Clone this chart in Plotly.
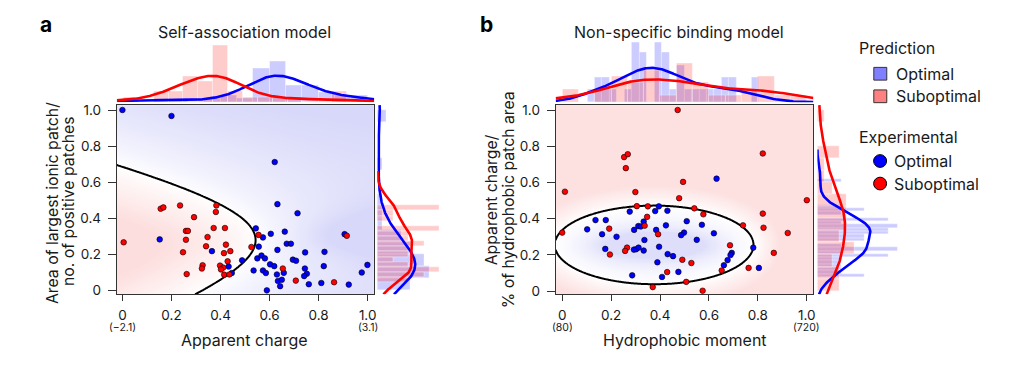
import numpy as np
import plotly.graph_objects as go

# the page body has an 8 px margin; size the figure so it fits the 1032x366 window
OFF = 8
W, H = 1032 - OFF, 366 - OFF
FONT = "Inter"
TXT = "#1a1a1a"

# ---------------- data: panel a (self-association model) ----------------
a_opt_x = [0.000, 0.200, 0.621, 0.632, 0.714, 0.152, 0.544, 0.573, 0.605, 0.662, 0.670, 0.687,
           0.556, 0.632, 0.365, 0.488, 0.550, 0.567, 0.581, 0.695, 0.708, 0.745, 0.824, 0.906,
           0.602, 0.619, 0.433, 0.535, 0.573, 0.585, 0.630, 0.658, 0.744, 0.752, 0.741, 0.821,
           0.634, 0.650, 0.643, 0.589, 0.760, 0.811, 0.923, 0.976, 0.999, 0.446]
a_opt_y = [1.000, 0.967, 0.712, 0.479, 0.429, 0.284, 0.345, 0.295, 0.315, 0.327, 0.260, 0.260,
           0.244, 0.226, 0.219, 0.168, 0.179, 0.195, 0.179, 0.172, 0.166, 0.212, 0.215, 0.313,
           0.146, 0.136, 0.134, 0.112, 0.112, 0.098, 0.090, 0.099, 0.123, 0.094, 0.081, 0.136,
           0.054, 0.061, 0.025, 0.002, 0.036, 0.043, 0.034, 0.101, 0.143, 0.098]
a_sub_x = [0.005, 0.156, 0.167, 0.235, 0.383, 0.381, 0.292, 0.372, 0.418, 0.259, 0.267, 0.259,
           0.347, 0.341, 0.422, 0.247, 0.414, 0.440, 0.429, 0.327, 0.324, 0.398, 0.411, 0.402,
           0.415, 0.436, 0.262, 0.526, 0.555, 0.654, 0.707, 0.863, 0.915]
a_sub_y = [0.268, 0.454, 0.461, 0.472, 0.472, 0.436, 0.407, 0.347, 0.347, 0.331, 0.331, 0.282,
           0.297, 0.246, 0.255, 0.213, 0.208, 0.219, 0.163, 0.141, 0.123, 0.139, 0.128, 0.118,
           0.089, 0.090, 0.092, 0.242, 0.309, 0.123, 0.056, 0.047, 0.304]

# ---------------- data: panel b (non-specific binding model) ----------------
b_opt_x = [0.631, 0.276, 0.380, 0.395, 0.430, 0.136, 0.178, 0.102, 0.163, 0.222, 0.294, 0.311,
           0.321, 0.333, 0.384, 0.424, 0.509, 0.571, 0.498, 0.486, 0.620, 0.550, 0.336, 0.396,
           0.176, 0.293, 0.302, 0.312, 0.333, 0.431, 0.453, 0.389, 0.475, 0.408, 0.286, 0.693,
           0.688, 0.676, 0.661, 0.781, 0.804]
b_opt_y = [0.621, 0.439, 0.442, 0.468, 0.444, 0.392, 0.392, 0.341, 0.314, 0.300, 0.338, 0.359,
           0.357, 0.384, 0.338, 0.363, 0.386, 0.366, 0.323, 0.309, 0.319, 0.283, 0.282, 0.245,
           0.233, 0.229, 0.231, 0.240, 0.224, 0.204, 0.193, 0.159, 0.106, 0.078, 0.087, 0.211,
           0.199, 0.171, 0.143, 0.240, 0.128]
b_sub_x = [0.472, 0.253, 0.268, 0.260, 0.820, 0.494, 0.011, 0.299, 0.478, 1.000, 0.305, 0.350,
           0.540, 0.577, 0.820, 0.347, 0.337, 0.823, 0.739, 0.922, 0.000, 0.192, 0.392, 0.686,
           0.265, 0.257, 0.195, 0.865, 0.491, 0.528, 0.762, 0.652, 0.429, 0.507, 0.370, 0.574]
b_sub_y = [1.000, 0.740, 0.756, 0.679, 0.760, 0.603, 0.549, 0.547, 0.513, 0.502, 0.469, 0.468,
           0.457, 0.424, 0.428, 0.410, 0.361, 0.350, 0.363, 0.321, 0.323, 0.345, 0.314, 0.253,
           0.240, 0.222, 0.202, 0.211, 0.173, 0.155, 0.128, 0.114, 0.105, 0.051, 0.022, 0.002]

# decision-boundary model parameters
a_model = dict(s0=0.543, t0=0.28, A=0.6045, B=0.571, C=-3.621)   # quadratic boundary
b_model = dict(cx=0.376, cy=0.255, rx=0.406, ry=0.217)            # ellipse boundary

tick_vals = [0, 0.2, 0.4, 0.6, 0.8, 1.0]
tick_text = ["0", "0.2", "0.4", "0.6", "0.8", "1.0"]
a_raw_labels = ["(\u22122.1)", "(3.1)"]
b_raw_labels = ["(80)", "(720)"]

BLUE, RED = "#0000ff", "#ff0000"
BLUE_BAR, RED_BAR = "rgba(0,0,255,0.2)", "rgba(255,0,0,0.2)"


def px(x):
    return (x - OFF) / W


def py(y):
    return 1 - (y - OFF) / H


XA = [-0.023, 1.027]
YA = [-0.020, 1.027]
XB = [-0.027, 1.027]
YB = [-0.018, 1.027]


def f_a(X, Y):
    s = X - a_model["s0"]
    t = Y - a_model["t0"]
    return a_model["A"] * s ** 2 + a_model["B"] * s * t + a_model["C"] * t ** 2 - s


def f_b(X, Y):
    return 1 - ((X - b_model["cx"]) / b_model["rx"]) ** 2 - ((Y - b_model["cy"]) / b_model["ry"]) ** 2


def signed_dist(func, xr, yr, n=240):
    gx = np.linspace(xr[0], xr[1], n)
    gy = np.linspace(yr[0], yr[1], n)
    X, Y = np.meshgrid(gx, gy)
    F = func(X, Y)
    dFy, dFx = np.gradient(F, gy, gx)
    D = F / np.sqrt(dFx ** 2 + dFy ** 2 + 1e-12)
    return gx, gy, F, D


def shade(D, s_pos, s_neg, gamma=0.85):
    Z = np.where(D >= 0, np.clip(D / s_pos, 0, 1), -np.clip(-D / s_neg, 0, 1))
    return np.sign(Z) * np.abs(Z) ** gamma


def kde(vals, grid):
    v = np.asarray(vals, float)
    n = len(v)
    h = v.std(ddof=1) * n ** (-0.2)
    g = np.asarray(grid)[:, None]
    dens = np.exp(-0.5 * ((g - v[None, :]) / h) ** 2).sum(1) / (n * h * np.sqrt(2 * np.pi))
    return dens, h


def hist(vals, nb):
    v = np.asarray(vals, float)
    d, e = np.histogram(v, bins=nb, range=(v.min(), v.max()), density=True)
    return 0.5 * (e[1:] + e[:-1]), d, e[1] - e[0]


fig = go.Figure()

# ---------- backgrounds + boundaries ----------
gx, gy, Fa, Da = signed_dist(f_a, XA, YA)
Za = shade(Da, 0.33, 0.38)
fig.add_trace(go.Heatmap(x=gx, y=gy, z=Za, zmin=-1, zmax=1, zsmooth="best", showscale=False,
                         colorscale=[[0, "rgb(216,216,250)"], [0.5, "rgb(255,255,255)"], [1, "rgb(253,222,222)"]],
                         hoverinfo="skip", xaxis="x", yaxis="y"))
fig.add_trace(go.Contour(x=gx, y=gy, z=Fa, autocontour=False,
                         contours=dict(start=0, end=0, size=1, coloring="none"),
                         line=dict(color="black", width=2), showscale=False, hoverinfo="skip",
                         xaxis="x", yaxis="y"))

hx, hy, Fb, Db = signed_dist(f_b, XB, YB)
Zb = shade(-Db, 0.10, 0.30, gamma=1.0)
fig.add_trace(go.Heatmap(x=hx, y=hy, z=Zb, zmin=-1, zmax=1, zsmooth="best", showscale=False,
                         colorscale=[[0, "rgb(222,222,250)"], [0.5, "rgb(255,255,255)"], [1, "rgb(253,224,224)"]],
                         hoverinfo="skip", xaxis="x2", yaxis="y2"))
fig.add_trace(go.Contour(x=hx, y=hy, z=Fb, autocontour=False,
                         contours=dict(start=0, end=0, size=1, coloring="none"),
                         line=dict(color="black", width=2), showscale=False, hoverinfo="skip",
                         xaxis="x2", yaxis="y2"))

# ---------- scatter points ----------
mk = dict(size=5.6, line=dict(color="black", width=0.6))
for xs, ys, col, xa, ya in [(a_opt_x, a_opt_y, BLUE, "x", "y"), (a_sub_x, a_sub_y, RED, "x", "y"),
                            (b_opt_x, b_opt_y, BLUE, "x2", "y2"), (b_sub_x, b_sub_y, RED, "x2", "y2")]:
    fig.add_trace(go.Scatter(x=xs, y=ys, mode="markers", marker=dict(color=col, **mk),
                             xaxis=xa, yaxis=ya, hoverinfo="skip", showlegend=False))

# ---------- marginals ----------
TOP_PX, RIGHT_PX = 61.0, 80.0
BAR_EDGE = dict(color="rgba(255,255,255,0.7)", width=0.5)


def top_marginal(opt, sub, nb_opt, nb_sub, xr, xa, ya, peak_px):
    grid = np.linspace(xr[0], xr[1], 300)
    for vals, nb, bar_col in [(opt, nb_opt, BLUE_BAR), (sub, nb_sub, RED_BAR)]:
        c, d, w = hist(vals, nb)
        fig.add_trace(go.Bar(x=c, y=d, width=w, marker=dict(color=bar_col, line=BAR_EDGE),
                             xaxis=xa, yaxis=ya, hoverinfo="skip", showlegend=False))
    peaks = []
    for vals, col in [(opt, BLUE), (sub, RED)]:
        dens, h = kde(vals, grid)
        v = np.asarray(vals)
        m = (grid >= v.min() - 3 * h) & (grid <= v.max() + 3 * h)
        peaks.append(dens.max())
        fig.add_trace(go.Scatter(x=grid[m], y=dens[m], mode="lines", line=dict(color=col, width=2.6),
                                 xaxis=xa, yaxis=ya, hoverinfo="skip", showlegend=False))
    return max(peaks) * TOP_PX / peak_px


def right_marginal(opt, sub, nb_opt, nb_sub, yr, xa, ya, peak_px):
    grid = np.linspace(yr[0], yr[1], 300)
    for vals, nb, bar_col in [(opt, nb_opt, BLUE_BAR), (sub, nb_sub, RED_BAR)]:
        c, d, w = hist(vals, nb)
        fig.add_trace(go.Bar(y=c, x=d, width=w, orientation="h", marker=dict(color=bar_col, line=BAR_EDGE),
                             xaxis=xa, yaxis=ya, hoverinfo="skip", showlegend=False))
    peaks = []
    for vals, col in [(opt, BLUE), (sub, RED)]:
        dens, h = kde(vals, grid)
        v = np.asarray(vals)
        m = (grid >= v.min() - 3 * h) & (grid <= v.max() + 3 * h)
        peaks.append(dens.max())
        fig.add_trace(go.Scatter(y=grid[m], x=dens[m], mode="lines", line=dict(color=col, width=2.6),
                                 xaxis=xa, yaxis=ya, hoverinfo="skip", showlegend=False))
    return max(peaks) * RIGHT_PX / peak_px


R_top_a = top_marginal(a_opt_x, a_sub_x, 15, 15, XA, "x", "y3", 27)
R_right_a = right_marginal(a_opt_y, a_sub_y, 15, 15, YA, "x3", "y", 38)
R_top_b = top_marginal(b_opt_x, b_sub_x, 23, 15, XB, "x2", "y4", 35)
R_right_b = right_marginal(b_opt_y, b_sub_y, 30, 15, YB, "x4", "y2", 53)

# ---------- axes ----------
ax_common = dict(showgrid=False, zeroline=False, showline=True, mirror=True, linecolor="#333",
                 linewidth=1, ticks="outside", tickcolor="#333", tickwidth=1,
                 tickvals=tick_vals, ticktext=tick_text,
                 tickfont=dict(family=FONT, size=13.5, color=TXT))
hidden = dict(visible=False, showgrid=False, zeroline=False, fixedrange=True)

fig.update_layout(
    width=W, height=H, margin=dict(l=0, r=0, t=0, b=0),
    paper_bgcolor="white", plot_bgcolor="rgba(0,0,0,0)",
    barmode="overlay", bargap=0, showlegend=False,
    font=dict(family=FONT, color=TXT),
    xaxis=dict(domain=[px(117), px(375)], range=XA, anchor="y", ticklen=6, ticklabelstandoff=2, **ax_common),
    yaxis=dict(domain=[py(297), py(104)], range=YA, anchor="x", ticklen=8, ticklabelstandoff=4, **ax_common),
    xaxis2=dict(domain=[px(556.7), px(815)], range=XB, anchor="y2", ticklen=6, ticklabelstandoff=2, **ax_common),
    yaxis2=dict(domain=[py(297), py(104)], range=YB, anchor="x2", ticklen=8, ticklabelstandoff=4, **ax_common),
    yaxis3=dict(domain=[py(101), py(40)], range=[0, R_top_a], anchor="x", **hidden),
    xaxis3=dict(domain=[px(378), px(458)], range=[0, R_right_a], anchor="y", **hidden),
    yaxis4=dict(domain=[py(101), py(40)], range=[0, R_top_b], anchor="x2", **hidden),
    xaxis4=dict(domain=[px(819), px(899)], range=[0, R_right_b], anchor="y2", **hidden),
)

ann = []


def text(x, y, s, size, xanchor="center", angle=0, xref="paper", bold=False):
    ann.append(dict(x=x, y=y, xref=xref, yref="paper", text=("<b>%s</b>" % s) if bold else s,
                    showarrow=False, xanchor=xanchor, yanchor="middle", textangle=angle,
                    font=dict(family=FONT, size=size, color="black" if bold else TXT)))


text(px(46), py(22), "a", 21, bold=True)
text(px(487), py(22), "b", 21, bold=True)
text(px(245), py(29), "Self-association model", 16)
text(px(680), py(29), "Non-specific binding model", 16)
text(px(52), py(204), "Area of largest ionic patch/", 15.8, angle=-90)
text(px(68), py(202), "no. of positive patches", 15.8, angle=-90)
text(px(492), py(201), "Apparent charge/", 15.8, angle=-90)
text(px(509), py(201), "% of hydrophobic patch area", 15.8, angle=-90)
text(px(245), py(344), "Apparent charge", 16)
text(px(686), py(344), "Hydrophobic moment", 16)
for xv, lab in zip([0, 1.0], a_raw_labels):
    text(xv, py(331), lab, 10.5, xref="x")
for xv, lab in zip([0, 1.0], b_raw_labels):
    text(xv, py(331), lab, 10.5, xref="x2")

# legend (manual)
text(px(859), py(46), "Prediction", 16, xanchor="left")
text(px(896), py(72), "Optimal", 16, xanchor="left")
text(px(896), py(95), "Suboptimal", 16, xanchor="left")
text(px(859), py(137), "Experimental", 16, xanchor="left")
text(px(894), py(161), "Optimal", 16, xanchor="left")
text(px(894), py(184), "Suboptimal", 16, xanchor="left")

shapes = []
for cy, col in [(72, "#8080ff"), (95, "#ff8080")]:
    shapes.append(dict(type="rect", xref="paper", yref="paper", x0=px(875.5), x1=px(888.5),
                       y0=py(cy + 6.5), y1=py(cy - 6.5), fillcolor=col, line=dict(color="#333", width=1)))
for cy, col in [(161, BLUE), (184, RED)]:
    shapes.append(dict(type="circle", xref="paper", yref="paper", x0=px(875.3), x1=px(888.3),
                       y0=py(cy + 6.5), y1=py(cy - 6.5), fillcolor=col, line=dict(color="black", width=1)))

fig.update_layout(annotations=ann, shapes=shapes)
fig.write_html("out.html")
